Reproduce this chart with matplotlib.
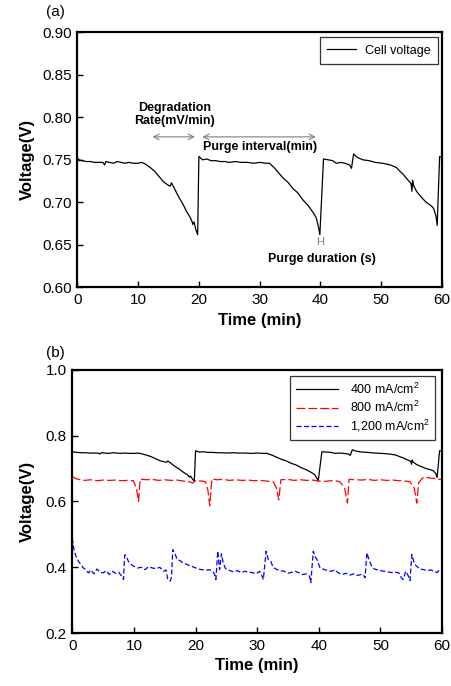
import matplotlib
matplotlib.use("Agg")
import matplotlib.pyplot as plt

plt.rcParams['font.family'] = ['Liberation Sans', 'DejaVu Sans']
plt.rcParams['mathtext.default'] = 'regular'

# ---------------- data: panel (a) / 400 mA/cm2 ----------------
t_cell = [0.0, 0.3, 0.8, 1.5, 2.2, 2.8, 3.5, 4.2, 4.5, 4.7, 5.3, 6.0, 6.5, 7.2, 7.8, 8.5,
          9.2, 10.0, 10.6, 11.2, 12.0, 12.8, 13.5, 14.2, 15.0, 15.3, 15.5, 16.0, 16.7, 17.3,
          18.0, 18.6, 18.9, 19.0, 19.2, 19.5, 19.8, 20.0,
          20.6, 21.3, 22.0, 22.8, 23.5, 24.3, 25.0, 26.0, 27.0, 28.0, 29.0, 30.0, 31.0, 31.6,
          32.5, 33.2, 33.8, 34.6, 35.5, 36.3, 37.1, 38.0, 38.8, 39.3, 39.7, 39.9,
          40.5, 41.3, 42.0, 42.6, 43.4, 44.0, 44.8, 45.1, 45.45, 46.0, 47.0, 48.0, 49.0,
          50.2, 51.5, 52.5, 53.0, 53.6, 54.3, 54.9, 55.05, 55.15, 55.3, 55.8, 56.6, 57.4,
          58.2, 58.6, 59.0, 59.2, 59.6, 60.0]
v_cell = [0.752, 0.750, 0.749, 0.748, 0.748, 0.747, 0.747, 0.747, 0.744, 0.748, 0.747,
          0.746, 0.748, 0.747, 0.746, 0.747, 0.746, 0.746, 0.747, 0.745, 0.741, 0.736,
          0.730, 0.724, 0.720, 0.719, 0.723, 0.716, 0.706, 0.699, 0.689, 0.682, 0.677,
          0.674, 0.677, 0.668, 0.662, 0.754,
          0.750, 0.751, 0.749, 0.749, 0.748, 0.748, 0.747, 0.748, 0.747, 0.747, 0.746,
          0.747, 0.746, 0.746, 0.740, 0.734, 0.729, 0.724, 0.716, 0.711, 0.703, 0.696,
          0.688, 0.682, 0.670, 0.662,
          0.751, 0.750, 0.749, 0.746, 0.747, 0.746, 0.744, 0.740, 0.757, 0.753, 0.750,
          0.749, 0.747, 0.746, 0.744, 0.741, 0.737, 0.733, 0.727, 0.722, 0.713, 0.726,
          0.720, 0.713, 0.706, 0.700, 0.696, 0.693, 0.684, 0.673, 0.754, 0.753]

# ---------------- data: panel (b) ----------------
t_800 = [0.0, 0.5, 1.0, 2.0, 3.0, 4.0, 5.0, 6.0, 7.0, 8.0, 9.0, 9.9, 10.4, 10.75, 11.0,
         12.0, 13.0, 14.0, 15.0, 16.0, 17.0, 18.0, 19.0, 19.5, 20.0, 21.0, 21.6, 22.0,
         22.3, 22.65, 23.5, 24.5, 25.5, 26.5, 27.5, 28.5, 29.5, 30.5, 31.5, 32.6, 33.1,
         33.5, 33.85, 35.0, 36.0, 37.0, 38.0, 39.0, 40.0, 41.0, 42.0, 43.0, 43.5, 44.2,
         44.65, 44.9, 46.0, 47.0, 48.0, 49.0, 50.0, 51.0, 52.0, 53.0, 54.0, 54.8, 55.5,
         55.9, 56.2, 56.6, 57.0, 58.1, 59.0, 60.0]
v_800 = [0.676, 0.670, 0.667, 0.664, 0.666, 0.663, 0.665, 0.664, 0.665, 0.663, 0.664,
         0.663, 0.640, 0.600, 0.668, 0.666, 0.667, 0.664, 0.666, 0.664, 0.665, 0.662,
         0.660, 0.656, 0.663, 0.662, 0.660, 0.635, 0.587, 0.668, 0.666, 0.667, 0.664,
         0.666, 0.664, 0.665, 0.663, 0.664, 0.662, 0.660, 0.642, 0.605, 0.666, 0.667,
         0.664, 0.666, 0.664, 0.665, 0.662, 0.661, 0.663, 0.662, 0.658, 0.640, 0.595,
         0.667, 0.666, 0.665, 0.667, 0.664, 0.666, 0.664, 0.665, 0.663, 0.662, 0.660,
         0.640, 0.595, 0.657, 0.666, 0.674, 0.671, 0.669, 0.666]

t_1200 = [0.0, 0.3, 0.6, 1.0, 1.4, 1.8, 2.2, 2.6, 3.0, 3.5,
          4.0, 4.5, 5.0, 5.5, 6.0, 6.5, 7.0, 7.5, 8.0, 8.3,
          8.5, 8.8, 9.1, 9.6, 10.0, 10.6, 11.2, 11.8, 12.4, 13.0,
          13.6, 14.2, 14.8, 15.2, 15.5, 15.9, 16.1, 16.3, 16.7, 17.0,
          17.5, 18.0, 18.6, 19.2, 19.8, 20.4, 21.0, 21.6, 22.2, 22.8,
          23.1, 23.3, 23.6, 23.9, 24.2, 24.5, 24.8, 25.1, 25.6, 26.2,
          26.8, 27.4, 28.0, 28.6, 29.2, 29.8, 30.4, 30.8, 31.0, 31.45,
          31.8, 32.2, 32.6, 33.2, 33.8, 34.4, 35.0, 35.6, 36.2, 36.8,
          37.4, 38.0, 38.5, 38.7, 39.1, 39.4, 39.7, 40.2, 40.8, 41.4,
          42.0, 42.6, 43.2, 43.8, 44.4, 45.0, 45.6, 46.2, 46.8, 47.2,
          47.5, 47.8, 48.2, 48.6, 49.0, 49.4, 50.0, 50.6, 51.2, 51.8,
          52.4, 53.0, 53.4, 53.7, 54.1, 54.5, 54.8, 55.1, 55.5, 55.9,
          56.4, 57.0, 57.6, 58.2, 58.8, 59.2, 59.6, 60.0]
v_1200 = [0.489, 0.450, 0.433, 0.418, 0.408, 0.398, 0.393, 0.383, 0.392, 0.380,
          0.395, 0.385, 0.383, 0.390, 0.378, 0.388, 0.382, 0.386, 0.373, 0.363,
          0.438, 0.432, 0.418, 0.408, 0.403, 0.398, 0.400, 0.393, 0.402, 0.398,
          0.396, 0.400, 0.388, 0.392, 0.363, 0.358, 0.372, 0.454, 0.440, 0.424,
          0.420, 0.412, 0.409, 0.404, 0.400, 0.395, 0.393, 0.391, 0.393, 0.388,
          0.378, 0.363, 0.449, 0.393, 0.441, 0.413, 0.398, 0.393, 0.390, 0.386,
          0.390, 0.384, 0.388, 0.385, 0.384, 0.380, 0.388, 0.373, 0.363, 0.449,
          0.424, 0.418, 0.400, 0.393, 0.390, 0.388, 0.382, 0.385, 0.388, 0.383,
          0.378, 0.380, 0.373, 0.353, 0.449, 0.432, 0.424, 0.398, 0.394, 0.390,
          0.388, 0.392, 0.383, 0.378, 0.382, 0.376, 0.380, 0.375, 0.378, 0.378,
          0.368, 0.444, 0.420, 0.403, 0.395, 0.393, 0.390, 0.388, 0.386, 0.384,
          0.385, 0.383, 0.368, 0.363, 0.388, 0.375, 0.360, 0.439, 0.410, 0.403,
          0.395, 0.393, 0.390, 0.392, 0.388, 0.384, 0.393, 0.390]

label_a = 'Cell voltage'
labels_b = ['400 mA/cm$^2$', '800 mA/cm$^2$', '1,200 mA/cm$^2$']

fig = plt.figure(figsize=(4.52, 6.86), dpi=100)

def style_axes(ax):
    for s in ax.spines.values():
        s.set_linewidth(1.6)
    ax.tick_params(direction='in', length=4, width=1.0, labelsize=11, pad=4)

# ---------------- panel (a) ----------------
ax1 = fig.add_axes([0.171, 0.581, 0.807, 0.372])
ax1.plot(t_cell, v_cell, color='black', lw=0.9, label=label_a)
ax1.set_xlim(0, 60)
ax1.set_ylim(0.60, 0.90)
ax1.set_xticks(range(0, 61, 10))
ax1.set_yticks([0.60, 0.65, 0.70, 0.75, 0.80, 0.85, 0.90])
ax1.set_yticklabels(['0.60', '0.65', '0.70', '0.75', '0.80', '0.85', '0.90'])
style_axes(ax1)
ax1.set_xlabel('Time (min)', fontsize=12, fontweight='bold', labelpad=4)
ax1.set_ylabel('Voltage(V)', fontsize=12, fontweight='bold', labelpad=5)
leg1 = ax1.legend(loc='upper right', fontsize=9, frameon=True, fancybox=False,
                  edgecolor='black', handlelength=2.3, borderpad=0.6,
                  handletextpad=0.7, borderaxespad=0,
                  bbox_to_anchor=(0.989, 0.98))
leg1.get_frame().set_linewidth(0.9)

arrow_kw = dict(arrowstyle='<->', color='#808080', lw=0.8)
ax1.annotate('', xy=(11.9, 0.777), xytext=(19.8, 0.777), arrowprops=arrow_kw)
ax1.annotate('', xy=(20.1, 0.777), xytext=(39.7, 0.777), arrowprops=arrow_kw)
ax1.text(16.0, 0.803, 'Degradation\nRate(mV/min)', ha='center', va='center',
         fontsize=9, fontweight='bold', linespacing=1.1)
ax1.text(30.0, 0.765, 'Purge interval(min)', ha='center', va='center',
         fontsize=9, fontweight='bold')
ax1.text(39.9, 0.653, 'H', ha='center', va='center', fontsize=8, color='#808080')
ax1.text(40.3, 0.634, 'Purge duration (s)', ha='center', va='center',
         fontsize=9, fontweight='bold')
fig.text(0.122, 0.982, '(a)', fontsize=11, ha='center', va='center')

# ---------------- panel (b) ----------------
ax2 = fig.add_axes([0.160, 0.077, 0.818, 0.384])
ax2.plot(t_cell, v_cell, color='black', lw=0.9, label=labels_b[0])
ax2.plot(t_800, v_800, color='red', lw=0.9, ls=(0, (7, 2.5)), label=labels_b[1])
ax2.plot(t_1200, v_1200, color='blue', lw=0.9, ls=(0, (4, 2)), label=labels_b[2])
ax2.set_xlim(0, 60)
ax2.set_ylim(0.2, 1.0)
ax2.set_xticks(range(0, 61, 10))
ax2.set_yticks([0.2, 0.4, 0.6, 0.8, 1.0])
ax2.set_yticklabels(['0.2', '0.4', '0.6', '0.8', '1.0'])
style_axes(ax2)
ax2.set_xlabel('Time (min)', fontsize=12, fontweight='bold', labelpad=4)
ax2.set_ylabel('Voltage(V)', fontsize=12, fontweight='bold', labelpad=8)
leg2 = ax2.legend(loc='upper right', fontsize=9, frameon=True, fancybox=False,
                  edgecolor='black', handlelength=3.4, borderpad=0.45,
                  labelspacing=0.25, handletextpad=0.9, borderaxespad=0,
                  bbox_to_anchor=(0.982, 0.977))
leg2.get_frame().set_linewidth(0.9)
fig.text(0.122, 0.485, '(b)', fontsize=11, ha='center', va='center')

fig.savefig('out.png', dpi=100)
